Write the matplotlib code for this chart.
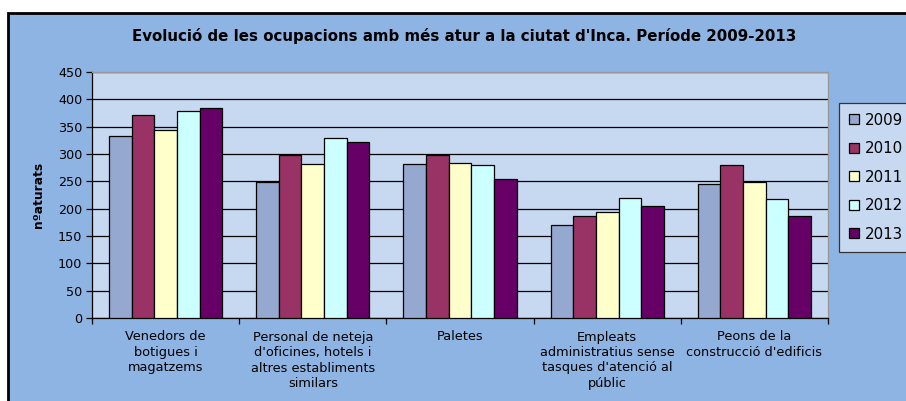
import numpy as np
import matplotlib
matplotlib.use("Agg")
import matplotlib.pyplot as plt
from matplotlib.patches import Rectangle

plt.rcParams['font.family'] = ['DejaVu Sans']

# data
categories = ["Venedors de\nbotigues i\nmagatzems",
              "Personal de neteja\nd'oficines, hotels i\naltres establiments\nsimilars",
              "Paletes",
              "Empleats\nadministratius sense\ntasques d'atenció al\npúblic",
              "Peons de la\nconstrucció d'edificis"]
years = ["2009", "2010", "2011", "2012", "2013"]
v2009 = [333, 249, 282, 171, 246]
v2010 = [371, 298, 299, 187, 279]
v2011 = [343, 282, 283, 193, 249]
v2012 = [378, 329, 280, 219, 217]
v2013 = [385, 322, 255, 204, 187]
colors = ['#95A8CF', '#993366', '#FFFFCC', '#CCFFFF', '#660066']

W, H = 906, 401
fig = plt.figure(figsize=(W / 100, H / 100), dpi=100)
fig.patch.set_facecolor('white')

# outer chart area (cropped at right and bottom)
fig.patches.append(Rectangle((8 / W, -0.05), 1.1, 1 - 13 / H + 0.05,
                             transform=fig.transFigure, facecolor='#8EB4E3',
                             edgecolor='black', lw=2, zorder=-5))

ax = fig.add_axes([92 / W, 1 - 318 / H, (828 - 92) / W, (318 - 72) / H])
ax.set_facecolor('#C6D9F1')

x = np.arange(len(categories))
bw = 1 / 6.5
series = [v2009, v2010, v2011, v2012, v2013]
for i, (vals, c) in enumerate(zip(series, colors)):
    ax.bar(x + (i - 2) * bw, vals, bw, color=c, edgecolor='black', lw=0.9,
           label=years[i], zorder=3)

ax.set_xlim(-0.5, len(categories) - 0.5)
ax.set_ylim(0, 450)
ax.set_yticks(range(0, 451, 50))
ax.yaxis.grid(True, color='black', lw=0.9, zorder=0)
ax.set_axisbelow(True)

ax.set_xticks(np.arange(-0.5, len(categories), 1))
ax.set_xticklabels([])
ax.set_xticks(x, minor=True)
ax.set_xticklabels(categories, minor=True, fontsize=9.3, linespacing=1.25)
ax.tick_params(axis='x', which='minor', length=0, pad=9)
ax.tick_params(axis='x', which='major', length=4, width=0.9)
ax.tick_params(axis='y', length=4, width=0.9, labelsize=9.2, pad=3)

for s in ['left', 'bottom']:
    ax.spines[s].set_color('black')
    ax.spines[s].set_linewidth(0.9)
for s in ['top', 'right']:
    ax.spines[s].set_color('#999999')
    ax.spines[s].set_linewidth(1)

ax.set_ylabel("nºaturats", fontsize=8.8, fontweight='bold', labelpad=9)

fig.text(464 / W, 1 - 36 / H,
         "Evolució de les ocupacions amb més atur a la ciutat d'Inca. Període 2009-2013",
         ha='center', va='center', fontsize=10.85, fontweight='bold')

leg = ax.legend(loc='upper left', bbox_to_anchor=(839 / W, 1 - 103 / H),
                bbox_transform=fig.transFigure, borderaxespad=0, fontsize=10.8,
                handlelength=0.65, handleheight=0.65, handletextpad=0.45,
                labelspacing=0.9, borderpad=0.65, fancybox=False,
                framealpha=1, facecolor='#C6D9F1', edgecolor='#333333')
leg.get_frame().set_linewidth(0.9)
leg.set_clip_on(False)

fig.savefig("out.png", dpi=100)
